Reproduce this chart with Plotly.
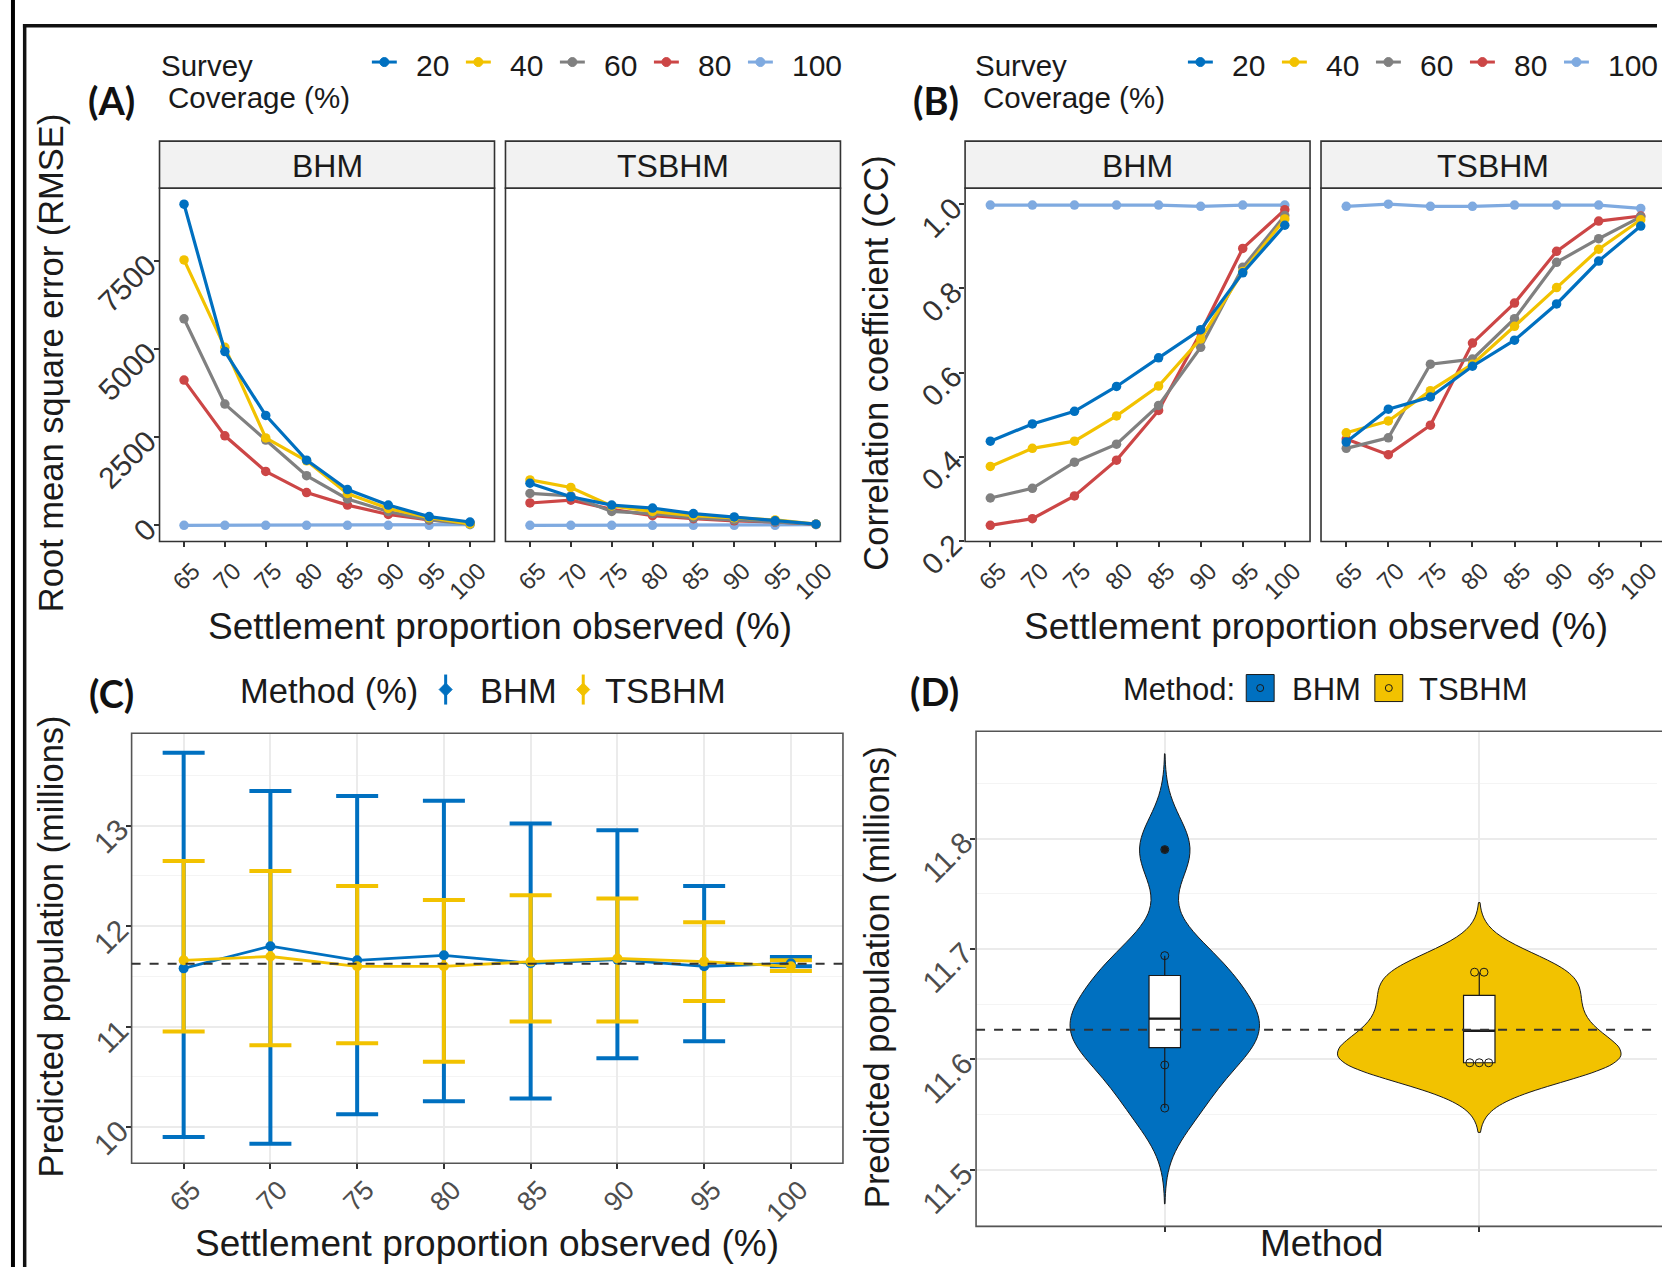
import numpy as np
import plotly.graph_objects as go

W, H = 1662, 1267          # design (reference) size in px
FIG_H = 1307               # page height rendered (captured page is resized to 1662x1267)
FONT = "Liberation Sans"
BOLD_FONT = "Lato"

# ---------------- data ----------------
settlement = ["65", "70", "75", "80", "85", "90", "95", "100"]
coverage_levels = ["20", "40", "60", "80", "100"]
coverage_colors = ["#0070C0", "#F2C200", "#808080", "#CC4646", "#7FAAE0"]
facets = ["BHM", "TSBHM"]

# (A) RMSE
rmse_bhm_20 = [9110, 4930, 3120, 1850, 1015, 575, 250, 95]
rmse_bhm_40 = [7530, 5050, 2480, 1830, 905, 480, 215, 40]
rmse_bhm_60 = [5860, 3440, 2420, 1410, 750, 395, 155, 35]
rmse_bhm_80 = [4120, 2540, 1530, 930, 575, 310, 155, 70]
rmse_bhm_100 = [0, 0, 0, 0, 0, 0, 0, 20]
rmse_tsbhm_20 = [1195, 810, 575, 490, 335, 240, 130, 35]
rmse_tsbhm_40 = [1290, 1075, 550, 395, 275, 215, 155, 35]
rmse_tsbhm_60 = [905, 835, 395, 335, 215, 155, 95, 35]
rmse_tsbhm_80 = [635, 715, 455, 275, 190, 130, 95, 35]
rmse_tsbhm_100 = [0, 0, 0, 0, 0, 0, 0, 20]

# (B) Correlation coefficient
cc_bhm_20 = [0.437, 0.478, 0.508, 0.567, 0.635, 0.702, 0.837, 0.950]
cc_bhm_40 = [0.377, 0.420, 0.437, 0.497, 0.568, 0.680, 0.840, 0.965]
cc_bhm_60 = [0.302, 0.325, 0.387, 0.430, 0.522, 0.660, 0.850, 0.973]
cc_bhm_80 = [0.237, 0.253, 0.307, 0.392, 0.510, 0.695, 0.895, 0.987]
cc_bhm_100 = [0.998, 0.998, 0.998, 0.998, 0.998, 0.995, 0.998, 0.998]
cc_tsbhm_20 = [0.435, 0.513, 0.542, 0.615, 0.677, 0.763, 0.865, 0.948]
cc_tsbhm_40 = [0.457, 0.485, 0.557, 0.620, 0.710, 0.802, 0.893, 0.963]
cc_tsbhm_60 = [0.420, 0.445, 0.620, 0.632, 0.728, 0.862, 0.918, 0.970]
cc_tsbhm_80 = [0.442, 0.405, 0.475, 0.670, 0.765, 0.888, 0.960, 0.972]
cc_tsbhm_100 = [0.995, 1.000, 0.995, 0.995, 0.998, 0.998, 0.998, 0.990]

# (C) Predicted population with intervals
bhm_mean = [11.58, 11.80, 11.66, 11.71, 11.63, 11.667, 11.60, 11.63]
bhm_lower = [9.902, 9.835, 10.129, 10.259, 10.286, 10.686, 10.855, 11.60]
bhm_upper = [13.725, 13.345, 13.294, 13.247, 13.02, 12.953, 12.40, 11.694]
tsbhm_mean = [11.66, 11.698, 11.60, 11.60, 11.647, 11.678, 11.647, 11.60]
tsbhm_lower = [10.953, 10.816, 10.835, 10.651, 11.051, 11.051, 11.255, 11.553]
tsbhm_upper = [12.647, 12.549, 12.40, 12.259, 12.306, 12.275, 12.039, 11.66]
true_population = 11.627

# (D) Distribution of predicted totals
bhm_pred = [11.556, 11.595, 11.616, 11.630, 11.644, 11.670, 11.694, 11.790]
tsbhm_pred = [11.597, 11.597, 11.597, 11.615, 11.637, 11.651, 11.679, 11.679]
method_names = ["BHM", "TSBHM"]
method_colors = ["#0070C0", "#F2C200"]

rmse = {"BHM": [rmse_bhm_20, rmse_bhm_40, rmse_bhm_60, rmse_bhm_80, rmse_bhm_100],
        "TSBHM": [rmse_tsbhm_20, rmse_tsbhm_40, rmse_tsbhm_60, rmse_tsbhm_80, rmse_tsbhm_100]}
cc = {"BHM": [cc_bhm_20, cc_bhm_40, cc_bhm_60, cc_bhm_80, cc_bhm_100],
      "TSBHM": [cc_tsbhm_20, cc_tsbhm_40, cc_tsbhm_60, cc_tsbhm_80, cc_tsbhm_100]}

# ---------------- layout helpers ----------------
def px_x(x):
    return x / W


def px_y(y):
    return 1 - y / H


def expand(vals, mult=0.05):
    lo, hi = float(np.min(vals)), float(np.max(vals))
    d = (hi - lo) * mult
    return [lo - d, hi + d]


def place(box, xr):
    """box = (left, right, top, bottom) in design px; clip to figure width."""
    l, r, t, b = box
    rr = min(r, W)
    lo, hi = xr
    hi2 = lo + (hi - lo) * (rr - l) / (r - l)
    return [l / W, rr / W], [1 - b / H, 1 - t / H], [lo, hi2]


BOX = {
    "a1": (160, 496, 188, 541),
    "a2": (507, 843, 188, 541),
    "b1": (968, 1314, 188, 541),
    "b2": (1325, 1671, 188, 541),
    "c": (132, 845.5, 732.6, 1162.4),
    "d": (979, 1673, 730.7, 1225.4),
}
STRIP_TOP = 141

shapes = []
annotations = []


def txt(x, y, s, size, xanchor="left", yanchor="middle", angle=0, family=FONT, color="#1A1A1A"):
    annotations.append(dict(x=px_x(x), y=px_y(y), xref="paper", yref="paper", text=s,
                            showarrow=False, xanchor=xanchor, yanchor=yanchor, textangle=angle,
                            font=dict(family=family, size=size, color=color), borderpad=0))


def rect(x0, y0, x1, y1, fill=None, line=None, lw=1.5, layer="above"):
    shapes.append(dict(type="rect", xref="paper", yref="paper",
                       x0=px_x(x0), x1=px_x(x1), y0=px_y(y1), y1=px_y(y0),
                       fillcolor=fill if fill else "rgba(0,0,0,0)",
                       line=dict(color=line if line else "rgba(0,0,0,0)", width=lw if line else 0),
                       layer=layer))


def seg(x0, y0, x1, y1, color, lw):
    shapes.append(dict(type="line", xref="paper", yref="paper", x0=px_x(x0), x1=px_x(x1),
                       y0=px_y(y0), y1=px_y(y1), line=dict(color=color, width=lw), layer="above"))


def dot(cx, cy, r, fill, line=None, lw=1):
    shapes.append(dict(type="circle", xref="paper", yref="paper",
                       x0=px_x(cx - r), x1=px_x(cx + r), y0=px_y(cy + r), y1=px_y(cy - r),
                       fillcolor=fill, line=dict(color=line if line else fill, width=lw), layer="above"))


def diamond(cx, cy, r, fill):
    pts = [(cx, cy - r), (cx + r, cy), (cx, cy + r), (cx - r, cy)]
    path = "M " + " L ".join("%.5f,%.5f" % (px_x(a), px_y(b)) for a, b in pts) + " Z"
    shapes.append(dict(type="path", xref="paper", yref="paper", path=path, fillcolor=fill,
                       line=dict(color=fill, width=1), layer="above"))


fig = go.Figure()
axes = {}

xcat_range = [-0.6, len(settlement) - 0.4]

# ---------------- (A) and (B) ----------------
panel_defs = [("a1", "x", "y", rmse, "BHM"), ("a2", "x2", "y2", rmse, "TSBHM"),
              ("b1", "x3", "y3", cc, "BHM"), ("b2", "x4", "y4", cc, "TSBHM")]
rmse_range = expand([v for f in facets for s in rmse[f] for v in s])
cc_range = expand([v for f in facets for s in cc[f] for v in s])

for key, xa, ya, data, facet in panel_defs:
    for i in reversed(range(len(coverage_levels))):
        fig.add_trace(go.Scatter(
            x=settlement, y=data[facet][i], mode="lines+markers",
            line=dict(color=coverage_colors[i], width=3.2),
            marker=dict(color=coverage_colors[i], size=9.5),
            xaxis=xa, yaxis=ya, showlegend=False, hoverinfo="skip"))
    yr = rmse_range if data is rmse else cc_range
    xd, yd, xr = place(BOX[key], xcat_range)
    first = facet == "BHM"
    axes["xaxis" + xa[1:]] = dict(
        domain=xd, range=xr, type="category", categoryorder="array", categoryarray=settlement,
        anchor=ya, tickangle=-45, ticks="outside", ticklen=5, tickwidth=1.5, tickcolor="#333333",
        showgrid=False, zeroline=False, showline=False,
        tickfont=dict(family=FONT, size=24, color="#333333"),
        ticklabelshift=9, ticklabelstandoff=0)
    if data is rmse:
        tv = [0, 2500, 5000, 7500]
        tt = [str(v) for v in tv]
    else:
        tv = [0.2, 0.4, 0.6, 0.8, 1.0]
        tt = ["%.1f" % v for v in tv]
    axes["yaxis" + ya[1:]] = dict(
        domain=yd, range=yr, anchor=xa, tickvals=tv, ticktext=tt, tickangle=-45,
        ticks="outside" if first else "", ticklen=5, tickwidth=1.5, tickcolor="#333333",
        showticklabels=first, showgrid=False, zeroline=False, showline=False,
        tickfont=dict(family=FONT, size=30, color="#333333"))
    l, r, t, b = BOX[key]
    rect(l, t, r, b, line="#333333", lw=1.6)
    rect(l, STRIP_TOP, r, t, fill="#F2F2F2", line="#333333", lw=1.6)
    txt((l + r) / 2, 166, facet, 32, xanchor="center")

# ---------------- (C) ----------------
c_means = [bhm_mean, tsbhm_mean]
c_low = [bhm_lower, tsbhm_lower]
c_up = [bhm_upper, tsbhm_upper]
for i in range(2):
    m = np.array(c_means[i])
    fig.add_trace(go.Scatter(
        x=settlement, y=m, mode="markers", marker=dict(size=1, color="rgba(0,0,0,0)"),
        error_y=dict(type="data", symmetric=False, array=np.array(c_up[i]) - m,
                     arrayminus=m - np.array(c_low[i]), color=method_colors[i], thickness=4, width=21),
        xaxis="x5", yaxis="y5", showlegend=False, hoverinfo="skip"))
for i in range(2):
    fig.add_trace(go.Scatter(
        x=settlement, y=c_means[i], mode="lines+markers",
        line=dict(color=method_colors[i], width=2.8),
        marker=dict(color=method_colors[i], size=10),
        xaxis="x5", yaxis="y5", showlegend=False, hoverinfo="skip"))

c_range = expand(bhm_lower + bhm_upper + tsbhm_lower + tsbhm_upper)
xd, yd, xr = place(BOX["c"], xcat_range)
axes["xaxis5"] = dict(
    domain=xd, range=xr, type="category", categoryorder="array", categoryarray=settlement,
    anchor="y5", tickangle=-45, ticks="outside", ticklen=5, tickwidth=1.5, tickcolor="#333333",
    showgrid=True, gridcolor="#EBEBEB", gridwidth=1.5, zeroline=False, showline=False,
    tickfont=dict(family=FONT, size=27, color="#4D4D4D"), ticklabelshift=9, ticklabelstandoff=-6)
axes["yaxis5"] = dict(
    domain=yd, range=c_range, anchor="x5", tick0=10, dtick=1, tickangle=-45,
    ticks="outside", ticklen=5, tickwidth=1.5, tickcolor="#333333",
    showgrid=True, gridcolor="#EBEBEB", gridwidth=1.5, zeroline=False, showline=False,
    minor=dict(dtick=0.5, tick0=10, showgrid=True, gridcolor="#F4F4F4", gridwidth=1, ticks=""),
    tickfont=dict(family=FONT, size=30, color="#4D4D4D"))
l, r, t, b = BOX["c"]
rect(l, t, r, b, line="#555555", lw=1.6)
shapes.append(dict(type="line", xref="x5 domain", yref="y5", x0=0, x1=1,
                   y0=true_population, y1=true_population,
                   line=dict(color="#333333", width=2, dash="dash"), layer="above"))

# ---------------- (D) ----------------
def nrd0(x):
    x = np.asarray(x, float)
    sd = x.std(ddof=1)
    iqr = np.subtract(*np.percentile(x, [75, 25]))
    return 0.9 * min(sd, iqr / 1.34) * len(x) ** -0.2


def kde_max(x, bw, lo, hi):
    x = np.asarray(x, float)
    g = np.linspace(lo, hi, 512)
    d = np.exp(-0.5 * ((g[:, None] - x[None, :]) / bw) ** 2).sum(1) / (len(x) * bw * np.sqrt(2 * np.pi))
    return d.max()


d_data = [bhm_pred, tsbhm_pred]
bws = [nrd0(v) for v in d_data]
spans = [[min(v) - 3 * bw, max(v) + 3 * bw] for v, bw in zip(d_data, bws)]
dmax = [kde_max(v, bw, s[0], s[1]) for v, bw, s in zip(d_data, bws, spans)]
widths = [0.9 * m / max(dmax) for m in dmax]

for i in range(2):
    pos = i + 1
    fig.add_trace(go.Violin(
        x=[pos] * len(d_data[i]), y=d_data[i], width=widths[i], bandwidth=bws[i],
        spanmode="manual", span=spans[i], scalemode="width", points=False,
        fillcolor=method_colors[i], line=dict(color="#1A1A1A", width=1), opacity=1,
        box_visible=False, meanline_visible=False, xaxis="x6", yaxis="y6",
        showlegend=False, hoverinfo="skip"))

for i in range(2):
    pos = i + 1
    v = np.asarray(d_data[i], float)
    q1, med, q3 = np.percentile(v, [25, 50, 75])
    iqr = q3 - q1
    inside = v[(v >= q1 - 1.5 * iqr) & (v <= q3 + 1.5 * iqr)]
    fig.add_trace(go.Box(
        x=[pos], q1=[q1], median=[med], q3=[q3], lowerfence=[inside.min()], upperfence=[inside.max()],
        width=0.1, fillcolor="white", line=dict(color="#1A1A1A", width=1.2), whiskerwidth=0,
        boxpoints=False, xaxis="x6", yaxis="y6", showlegend=False, hoverinfo="skip"))
    # thicker median bar, as in the reference box plot
    fig.add_trace(go.Scatter(
        x=[pos - 0.05, pos + 0.05], y=[med, med], mode="lines",
        line=dict(color="#1A1A1A", width=2.4), xaxis="x6", yaxis="y6",
        showlegend=False, hoverinfo="skip"))
    # raw observations visible outside the box, duplicates spread side by side
    vis = v[(v <= q1) | (v >= q3)]
    xs, ys = [], []
    for val in np.unique(vis):
        n = int((vis == val).sum())
        for k in range(n):
            xs.append(pos + (k - (n - 1) / 2) * 0.03)
            ys.append(val)
    fig.add_trace(go.Scatter(
        x=xs, y=ys, mode="markers",
        marker=dict(symbol="circle-open", size=8, color="#1A1A1A", line=dict(width=1)),
        xaxis="x6", yaxis="y6", showlegend=False, hoverinfo="skip"))
    out = v[(v < q1 - 1.5 * iqr) | (v > q3 + 1.5 * iqr)]
    if len(out):
        fig.add_trace(go.Scatter(
            x=[pos] * len(out), y=out, mode="markers",
            marker=dict(symbol="circle", size=7, color="#1A1A1A"),
            xaxis="x6", yaxis="y6", showlegend=False, hoverinfo="skip"))

d_range = expand([spans[0][0], spans[0][1], spans[1][0], spans[1][1]])
xd, yd, xr = place(BOX["d"], [0.4, 2.6])
axes["xaxis6"] = dict(
    domain=xd, range=xr, anchor="y6", tickvals=[1, 2], showticklabels=False,
    ticks="outside", ticklen=5, tickwidth=1.5, tickcolor="#333333",
    showgrid=True, gridcolor="#EBEBEB", gridwidth=1.5, zeroline=False, showline=False)
axes["yaxis6"] = dict(
    domain=yd, range=d_range, anchor="x6", tick0=11.5, dtick=0.1, tickformat=".1f", tickangle=-45,
    ticks="outside", ticklen=5, tickwidth=1.5, tickcolor="#333333",
    showgrid=True, gridcolor="#EBEBEB", gridwidth=1.5, zeroline=False, showline=False,
    minor=dict(dtick=0.05, tick0=11.5, showgrid=True, gridcolor="#F4F4F4", gridwidth=1, ticks=""),
    tickfont=dict(family=FONT, size=30, color="#4D4D4D"))
l, r, t, b = BOX["d"]
rect(l, t, r, b, line="#555555", lw=1.6)
shapes.append(dict(type="line", xref="x6 domain", yref="y6", x0=0, x1=1,
                   y0=true_population, y1=true_population,
                   line=dict(color="#333333", width=2, dash="dash"), layer="above"))

# ---------------- titles and labels ----------------
title_x = "Settlement proportion observed (%)"
txt(501.5, 626, title_x, 37, xanchor="center")
txt(1320, 626, title_x, 37, xanchor="center")
txt(488, 1243, title_x, 37, xanchor="center")
txt(1325, 1243, "Method", 37, xanchor="center")
txt(51, 362, "Root mean square error (RMSE)", 34.5, xanchor="center", angle=-90)
txt(879, 363, "Correlation coefficient (CC)", 34.5, xanchor="center", angle=-90)
txt(51, 946, "Predicted population (millions)", 34.5, xanchor="center", angle=-90)
txt(879, 976, "Predicted population (millions)", 34.5, xanchor="center", angle=-90)

txt(87, 100, "<b>(A)</b>", 38, family=BOLD_FONT, color="#111111")
txt(915, 100, "<b>(B)</b>", 38, family=BOLD_FONT, color="#111111")
txt(88, 692, "<b>(C)</b>", 38, family=BOLD_FONT, color="#111111")
txt(912, 690, "<b>(D)</b>", 38, family=BOLD_FONT, color="#111111")

# legends for (A) and (B)
for x_title, x_first in [(160, 385.5), (977, 1204)]:
    txt(x_title, 65, "Survey", 29.5)
    txt(x_title + 8, 97, "Coverage (%)", 29.5)
    for i, lab in enumerate(coverage_levels):
        cx = x_first + i * 94.3
        seg(cx - 12.5, 62, cx + 12.5, 62, coverage_colors[i], 3)
        dot(cx, 62, 4.5, coverage_colors[i])
        txt(cx + 31, 65, lab, 30)

# legend for (C)
txt(240, 690, "Method (%)", 34.5)
for i, (cx, tx) in enumerate([(447, 480), (585, 606)]):
    seg(cx, 674, cx, 704, method_colors[i], 3)
    diamond(cx, 689, 6.5, method_colors[i])
    txt(tx, 690, method_names[i], 34.5)

# legend for (D)
txt(1125, 689, "Method:", 31)
for i, (x0, tx) in enumerate([(1250, 1295), (1379, 1422)]):
    rect(x0, 674, x0 + 28, 701, fill=method_colors[i], line="#1A1A1A", lw=1)
    dot(x0 + 14, 687.5, 3.5, "rgba(0,0,0,0)", line="#1A1A1A", lw=1)
    txt(tx, 689, method_names[i], 31)

# outer frame lines
rect(11, 0, 15, H, fill="#000000")
rect(23, 24, 26.5, H, fill="#111111")
rect(23, 24, W, 27.5, fill="#111111")

fig.update_layout(
    width=W, height=FIG_H, autosize=False,
    margin=dict(l=0, r=0, t=0, b=0, pad=0),
    paper_bgcolor="white", plot_bgcolor="rgba(0,0,0,0)",
    showlegend=False, violinmode="overlay", boxmode="overlay",
    shapes=shapes, annotations=annotations, hovermode=False,
    **axes)

post = (
    "document.documentElement.style.margin='0';"
    "document.documentElement.style.padding='0';"
    "document.documentElement.style.overflow='hidden';"
    "document.body.style.margin='0';"
    "document.body.style.padding='0';"
    "document.body.style.overflow='hidden';"
    "var g=document.getElementsByClassName('plotly-graph-div');"
    "for(var i=0;i<g.length;i++){g[i].style.position='absolute';g[i].style.left='0px';g[i].style.top='0px';}"
)
fig.write_html("out.html", config={"responsive": False, "displayModeBar": False},
               post_script=post)
